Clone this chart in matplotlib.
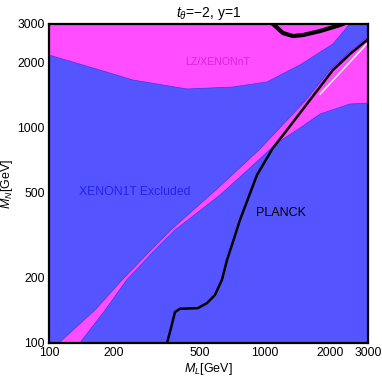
import matplotlib
matplotlib.use("Agg")
import matplotlib.pyplot as plt
import numpy as np

plt.rcParams['font.family'] = ['Liberation Sans', 'DejaVu Sans']
plt.rcParams['mathtext.fontset'] = 'custom'
plt.rcParams['mathtext.it'] = 'Liberation Sans:italic'
plt.rcParams['mathtext.rm'] = 'Liberation Sans'

# boundary of the LZ/XENONnT (magenta) region at the top
top_ml = [100, 172, 245, 435, 711, 1021, 1452, 2064, 2475]
top_mn = [2154, 1836, 1650, 1500, 1532, 1616, 1937, 2423, 3000]

# upper edge of the diagonal strip (limit of upper-left XENON1T region)
strip_up_ml = [111, 163, 218, 297, 367, 606, 938, 1549, 2000, 2398, 2935, 3000]
strip_up_mn = [100, 142, 196, 270, 334, 522, 783, 1334, 1836, 2177, 2582, 2641]

# lower edge of the strip (limit of lower-right XENON1T region)
strip_lo_ml = [139, 182, 229, 310, 384, 619, 852, 1137, 1407, 1798, 2475, 3000]
strip_lo_mn = [100, 142, 196, 270, 334, 484, 646, 843, 968, 1148, 1278, 1291]

# PLANCK relic density curve
planck_ml = [352, 367, 383, 404, 489, 539, 587, 632, 667, 703, 766, 918,
             1089, 1264, 1616, 2064, 2475, 2966]
planck_mn = [100, 117, 139, 144, 145, 153, 167, 196, 242, 284, 371, 599,
             800, 968, 1334, 1836, 2177, 2528]

# second PLANCK branch at the top
loop_ml = [1040, 1089, 1211, 1348, 1500, 1798, 2154, 2297, 2400]
loop_mn = [3200, 3000, 2724, 2637, 2666, 2781, 2936, 3000, 3100]

# thin white sliver inside the strip
white_ml = [1800, 2150, 2450, 2950]
white_mn = [1420, 1720, 1980, 2420]

x_ticks = [100, 200, 500, 1000, 2000, 3000]
y_ticks = [100, 200, 500, 1000, 2000, 3000]

blue = '#5555ff'
magenta = '#ff4dff'
edge = '#3a3af0'

fig = plt.figure(figsize=(3.82, 3.80), dpi=100)
ax = fig.add_axes([0.1283, 0.0974, 0.835, 0.8395])
ax.set_facecolor(magenta)

# upper-left excluded region
ul_x = np.concatenate([top_ml, [3000], strip_up_ml[::-1], [100]])
ul_y = np.concatenate([top_mn, [3000], strip_up_mn[::-1], [100]])
ax.fill(ul_x, ul_y, color=blue, ec=edge, lw=0.5, zorder=1)

# lower-right excluded region
lr_x = np.concatenate([strip_lo_ml, [3000]])
lr_y = np.concatenate([strip_lo_mn, [100]])
ax.fill(lr_x, lr_y, color=blue, ec=edge, lw=0.5, zorder=1)

ax.plot(white_ml, white_mn, color='white', lw=1.1, zorder=2)
ax.plot(planck_ml, planck_mn, color='black', lw=1.8, zorder=3)
ax.plot(loop_ml, loop_mn, color='black', lw=3.0, zorder=3)

ax.set_xscale('log')
ax.set_yscale('log')
ax.set_xlim(100, 3000)
ax.set_ylim(100, 3000)
ax.set_xticks(x_ticks)
ax.set_xticklabels([str(t) for t in x_ticks])
ax.set_yticks(y_ticks)
ax.set_yticklabels([str(t) for t in y_ticks])
ax.xaxis.set_minor_locator(matplotlib.ticker.NullLocator())
ax.yaxis.set_minor_locator(matplotlib.ticker.NullLocator())
ax.tick_params(length=0, labelsize=8.7)
ax.tick_params(axis='x', pad=3)
ax.tick_params(axis='y', pad=3)

for s in ax.spines.values():
    s.set_linewidth(1.6)
    s.set_zorder(5)

ax.text(606, 2000, "LZ/XENONnT", color='#dd22dd', fontsize=7.6,
        ha='center', va='center', zorder=4)
ax.text(250, 500, "XENON1T Excluded", color='#2222ee', fontsize=8.8,
        ha='center', va='center', zorder=4)
ax.text(1185, 400, "PLANCK", color='black', fontsize=9,
        ha='center', va='center', zorder=4)

ax.set_title(r"$t_\theta$=−2, y=1", fontsize=10, pad=5)
ax.set_xlabel(r"$M_L$[GeV]", fontsize=9, labelpad=1)
ax.set_ylabel(r"$M_N$[GeV]", fontsize=9, labelpad=2)

plt.savefig("out.png", dpi=100)
